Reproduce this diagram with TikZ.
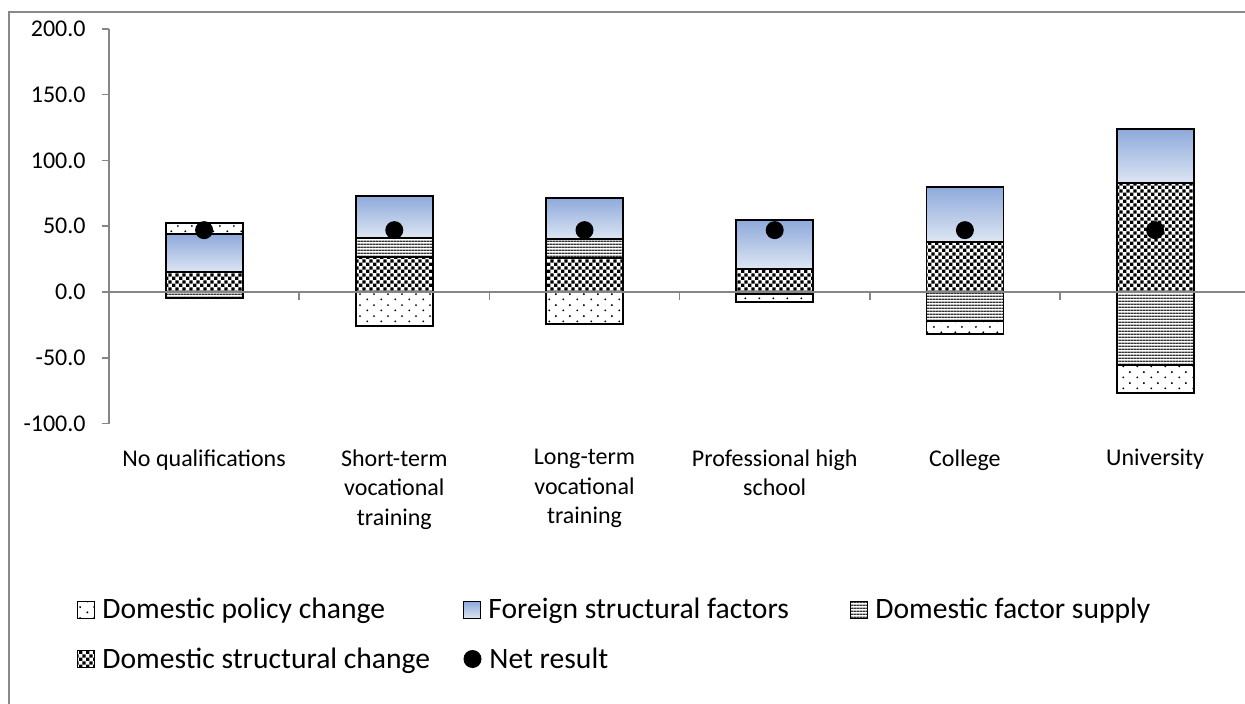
\documentclass[tikz,border=0pt]{standalone}
\usepackage{fontspec}
\setmainfont{Carlito}
\usetikzlibrary{patterns.meta}

\definecolor{framegray}{RGB}{137,137,137}
\definecolor{axisgray}{RGB}{134,134,134}
\definecolor{foreigntop}{RGB}{142,169,219}
\definecolor{foreignbot}{RGB}{221,230,243}

% Fill patterns of the four series
\tikzdeclarepattern{
  name=policydots,
  type=uncolored,
  bottom left={(0pt,0pt)},
  top right={(7pt,5.6pt)},
  tile size={(7pt,5.6pt)},
  code={
    \fill (1.75pt,1.4pt) circle (0.55pt);
    \fill (5.25pt,4.2pt) circle (0.55pt);
  }
}
\tikzdeclarepattern{
  name=supplylines,
  type=uncolored,
  bottom left={(0pt,0pt)},
  top right={(1.6pt,1.6pt)},
  tile size={(1.6pt,1.6pt)},
  code={
    \fill (0pt,0pt) rectangle (1.6pt,0.8pt);
  }
}
\tikzdeclarepattern{
  name=checker,
  type=uncolored,
  bottom left={(0pt,0pt)},
  top right={(3.6pt,3.6pt)},
  tile size={(3.6pt,3.6pt)},
  code={
    \fill (0pt,0pt) rectangle (1.8pt,1.8pt);
    \fill (1.8pt,1.8pt) rectangle (3.6pt,3.6pt);
  }
}

\begin{document}
\begin{tikzpicture}[
    x=0.5pt, y=-0.5pt,
    font=\fontsize{12}{14.75}\selectfont,
    chartframe/.style={draw=framegray, line width=0.75pt},
    axisline/.style={draw=axisgray, line width=0.75pt},
    policybar/.style={draw=black, line width=0.9pt, pattern=policydots, pattern color=black},
    foreignbar/.style={draw=black, line width=0.9pt, top color=foreigntop, bottom color=foreignbot},
    supplybar/.style={draw=black, line width=0.9pt, pattern=supplylines, pattern color=black!80},
    structbar/.style={draw=black, line width=0.9pt, pattern=checker, pattern color=black},
    netdot/.style={circle, fill=black, minimum size=9pt, inner sep=0pt},
    ticklabel/.style={anchor=east, inner sep=0pt},
    catlabel/.style={anchor=north, align=center, inner sep=0pt},
    legbox/.style={draw=black, line width=0.5pt, minimum size=8.5pt, inner sep=0pt},
    legtext/.style={anchor=base west, inner sep=0pt, font=\fontsize{14.8}{17}\selectfont}
]
\useasboundingbox (0,0) rectangle (1245,704);

% Chart frame
\draw[chartframe] (9,704) -- (9,12) -- (1245,12);

\begin{scope}[shift={(109,292)}, x=0.5pt, y=0.658pt]

% Bars
% No qualifications
\draw[structbar]  (56.6,0) rectangle (133.6,15);
\draw[foreignbar] (56.6,15) rectangle (133.6,43.8);
\draw[policybar]  (56.6,43.8) rectangle (133.6,52.7);
\draw[supplybar]  (56.6,0) rectangle (133.6,-4.8);
% Short-term vocational training
\draw[structbar]  (246.8,0) rectangle (323.8,26.8);
\draw[supplybar]  (246.8,26.8) rectangle (323.8,41.3);
\draw[foreignbar] (246.8,41.3) rectangle (323.8,73.2);
\draw[policybar]  (246.8,0) rectangle (323.8,-25.6);
% Long-term vocational training
\draw[structbar]  (437,0) rectangle (514,26);
\draw[supplybar]  (437,26) rectangle (514,40);
\draw[foreignbar] (437,40) rectangle (514,71.5);
\draw[policybar]  (437,0) rectangle (514,-24.5);
% Professional high school
\draw[structbar]  (627.2,0) rectangle (704.2,17.5);
\draw[foreignbar] (627.2,17.5) rectangle (704.2,54.7);
\draw[supplybar]  (627.2,0) rectangle (704.2,-1.8);
\draw[policybar]  (627.2,-1.8) rectangle (704.2,-7.4);
% College
\draw[structbar]  (817.4,0) rectangle (894.4,38.2);
\draw[foreignbar] (817.4,38.2) rectangle (894.4,80);
\draw[supplybar]  (817.4,0) rectangle (894.4,-21.8);
\draw[policybar]  (817.4,-21.8) rectangle (894.4,-31.9);
% University
\draw[structbar]  (1007.6,0) rectangle (1084.6,82.6);
\draw[foreignbar] (1007.6,82.6) rectangle (1084.6,123.9);
\draw[supplybar]  (1007.6,0) rectangle (1084.6,-55.5);
\draw[policybar]  (1007.6,-55.5) rectangle (1084.6,-77);

% Axes
\draw[axisline] (0,-100) -- (0,200);
\draw[axisline] (0,0) -- (1136,0);
\foreach \v in {-100,-50,...,200}
  \draw[axisline] (-7.5,\v) -- (0,\v);
\foreach \k in {1,...,5}
  \draw[axisline] (190.2*\k,0) -- (190.2*\k,-6);

% Net result
\node[netdot] (net1) at (95.1,47) {};
\node[netdot] (net2) at (285.3,47) {};
\node[netdot] (net3) at (475.5,47) {};
\node[netdot] (net4) at (665.7,47) {};
\node[netdot] (net5) at (855.9,47) {};
\node[netdot] (net6) at (1046.1,47) {};

% Tick labels
\node[ticklabel] (t200) at (-23,200) {200.0};
\node[ticklabel] (t150) at (-23,150) {150.0};
\node[ticklabel] (t100) at (-23,100) {100.0};
\node[ticklabel] (t50) at (-23,50) {50.0};
\node[ticklabel] (t0) at (-23,0) {0.0};
\node[ticklabel] (tm50) at (-23,-50) {-50.0};
\node[ticklabel] (tm100) at (-23,-100) {-100.0};

% Category labels
\node[catlabel] (noqual) at (95.1,-119.3) {No qualifications};
\node[catlabel] (shortvoc) at (285.3,-119.3) {Short-term\\vocational\\training};
\node[catlabel] (longvoc) at (475.5,-119.3) {Long-term\\vocational\\training};
\node[catlabel] (profhigh) at (665.7,-119.3) {Professional high\\school};
\node[catlabel] (college) at (855.9,-119.3) {College};
\node[catlabel] (univ) at (1046.1,-119.3) {University};
\end{scope}

% Legend
\node[legbox, pattern=policydots, pattern color=black] (legpolicy) at (86,610) {};
\node[legtext] (legpolicytxt) at (102,618) {Domestic policy change};
\node[legbox, top color=foreigntop, bottom color=foreignbot] (legforeign) at (472,610) {};
\node[legtext] (legforeigntxt) at (488,618) {Foreign structural factors};
\node[legbox, pattern=supplylines, pattern color=black!80] (legsupply) at (859,610) {};
\node[legtext] (legsupplytxt) at (875,618) {Domestic factor supply};
\node[legbox, pattern=checker, pattern color=black] (legstruct) at (86,659) {};
\node[legtext] (legstructtxt) at (102,668) {Domestic structural change};
\node[netdot] (legnet) at (472.5,659) {};
\node[legtext] (legnettxt) at (489,668) {Net result};

\end{tikzpicture}
\end{document}
